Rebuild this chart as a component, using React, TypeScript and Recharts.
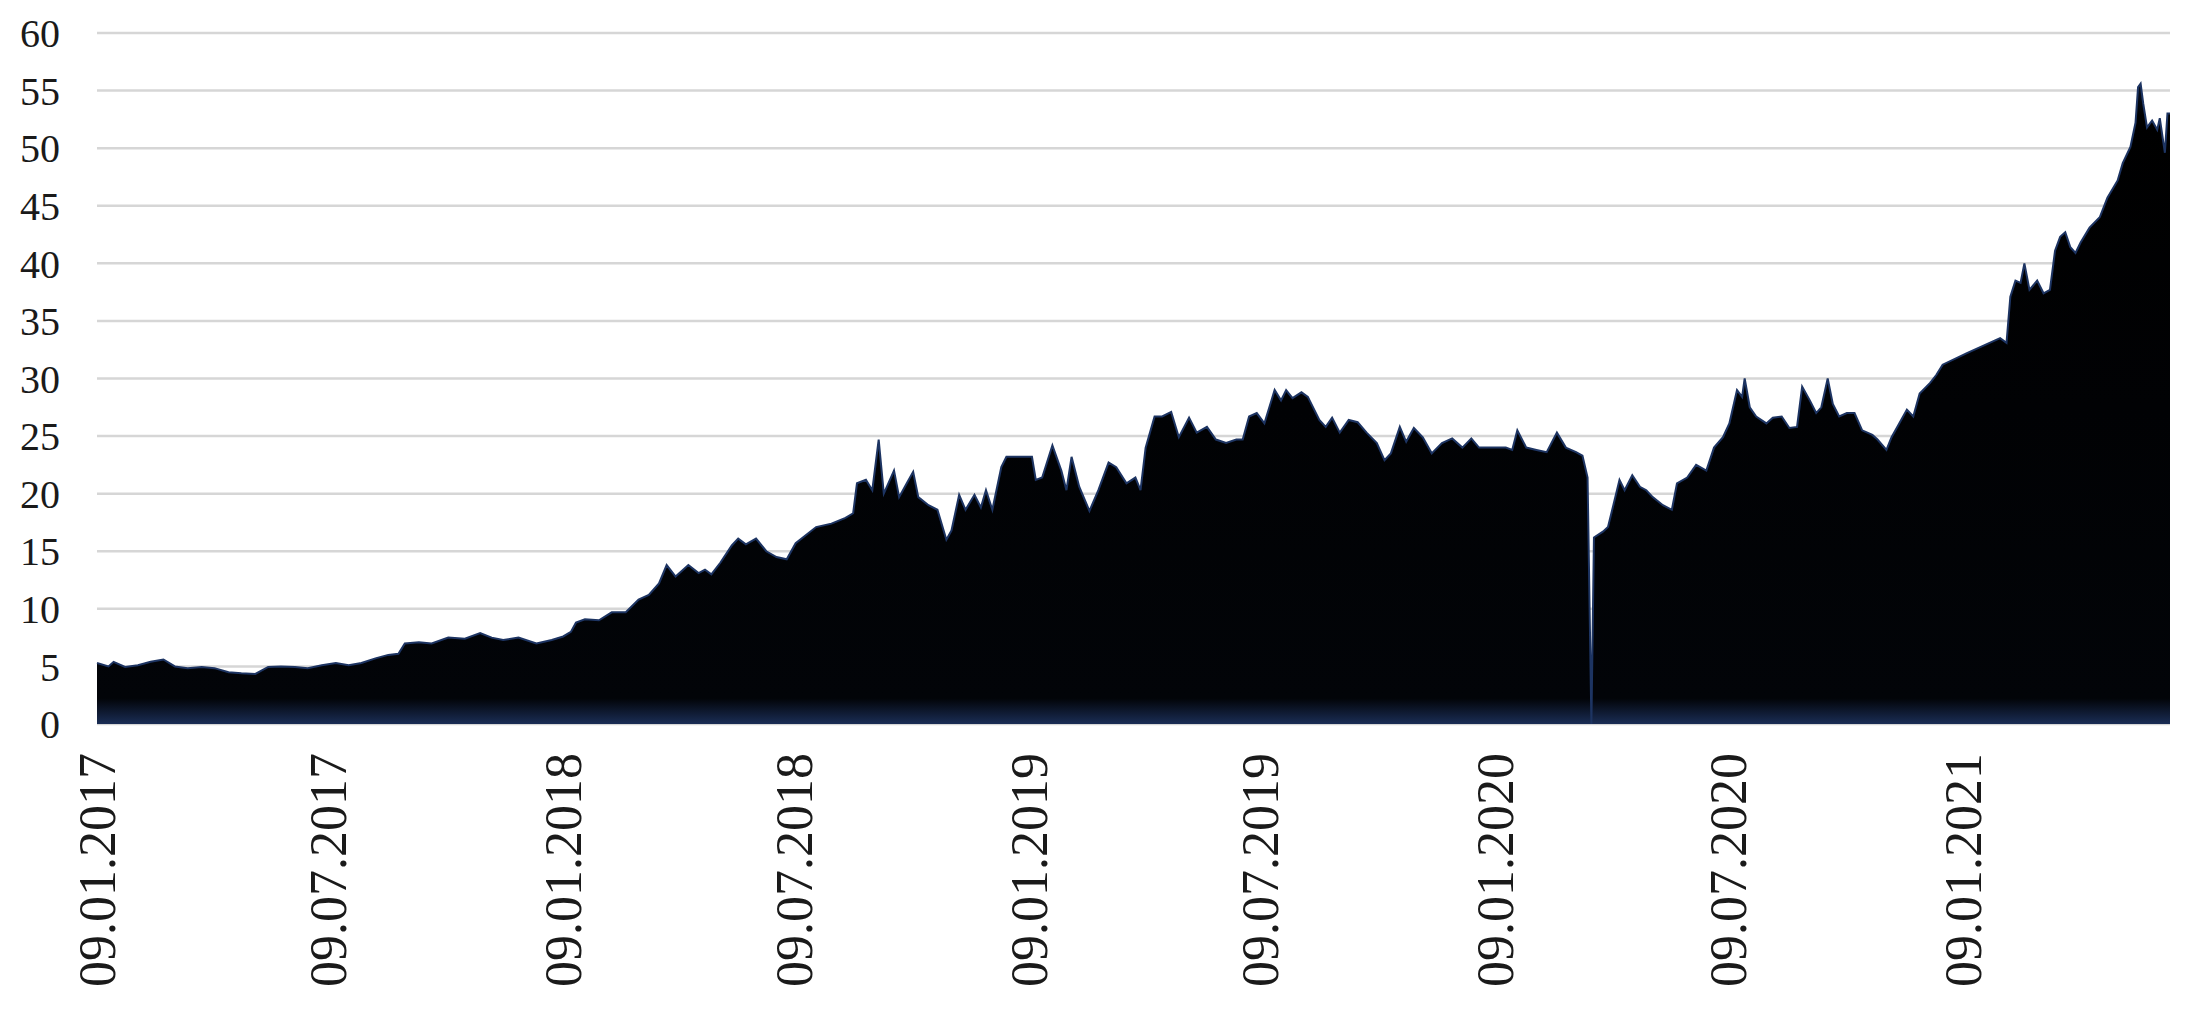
import React from 'react';
import { AreaChart, Area, XAxis, YAxis, CartesianGrid } from 'recharts';

// days since 09.01.2017
const days = [
  0, 9, 13, 22, 32, 42, 52, 61, 71, 82, 92, 103, 113, 124, 134, 144, 155, 165, 176, 187,
  197, 207, 218, 228, 236, 241, 252, 262, 275, 288, 300, 309, 318, 330, 344, 356, 365, 371,
  375, 382, 393, 403, 414, 424, 432, 440, 446, 453, 463, 471, 476, 481, 488, 497, 502, 508,
  516, 524, 532, 540, 547, 563, 575, 586, 592, 595, 602, 607, 612, 616, 624, 628, 634, 639,
  643, 651, 658, 665, 669, 675, 680, 687, 692, 696, 701, 708, 712, 732, 735, 740, 748, 755,
  759, 763, 769, 777, 784, 792, 798, 806, 813, 817, 821, 828, 834, 841, 847, 855, 861, 869,
  876, 884, 892, 897, 902, 908, 914, 922, 927, 931, 936, 943, 948, 957, 962, 967, 973, 980,
  987, 994, 1002, 1008, 1013, 1020, 1025, 1031, 1038, 1045, 1053, 1061, 1069, 1076, 1082,
  1103, 1108, 1112, 1119, 1127, 1135, 1143, 1150, 1158, 1163, 1167, 1170, 1172, 1179, 1183,
  1192, 1196, 1202, 1208, 1213, 1218, 1226, 1233, 1237, 1245, 1252, 1260, 1266, 1273, 1278,
  1284, 1288, 1290, 1294, 1299, 1307, 1312, 1319, 1325, 1331, 1335, 1341, 1346, 1350, 1355,
  1359, 1364, 1370, 1376, 1382, 1390, 1394, 1401, 1405, 1411, 1417, 1422, 1427, 1435, 1440,
  1445, 1464, 1490, 1495, 1498, 1502, 1506, 1509, 1513, 1519, 1524, 1529, 1533, 1537, 1541,
  1545, 1549, 1553, 1560, 1568, 1574, 1582, 1586, 1592, 1596, 1598, 1600, 1602, 1605, 1609,
  1613, 1615, 1619, 1621, 1623,
];

const prices = [
  5.3, 5.0, 5.4, 4.95, 5.1, 5.4, 5.6, 5.0, 4.85, 4.95, 4.85, 4.5, 4.4, 4.35, 4.95, 5.0, 4.95, 4.85, 5.1, 5.3,
  5.1, 5.3, 5.7, 6.0, 6.1, 7.0, 7.1, 7.0, 7.5, 7.4, 7.9, 7.5, 7.3, 7.5, 7.0, 7.3, 7.6, 8.0,
  8.8, 9.1, 9.0, 9.7, 9.7, 10.8, 11.2, 12.2, 13.8, 12.8, 13.8, 13.1, 13.4, 13.0, 14.0, 15.5, 16.1, 15.6,
  16.1, 15.0, 14.5, 14.3, 15.7, 17.1, 17.4, 17.9, 18.3, 20.9, 21.2, 20.3, 24.7, 20.0, 22.0, 19.7, 20.9, 21.9,
  19.7, 19.0, 18.6, 16.0, 16.8, 19.9, 18.6, 19.9, 18.8, 20.3, 18.6, 22.3, 23.2, 23.2, 21.2, 21.4, 24.2, 22.0,
  20.3, 23.2, 20.6, 18.5, 20.3, 22.7, 22.3, 20.9, 21.4, 20.3, 24.0, 26.7, 26.7, 27.1, 24.9, 26.6, 25.3, 25.8,
  24.7, 24.4, 24.7, 24.7, 26.7, 27.0, 26.1, 29.0, 28.1, 29.0, 28.3, 28.8, 28.4, 26.4, 25.8, 26.6, 25.3, 26.4,
  26.2, 25.3, 24.4, 22.9, 23.5, 25.8, 24.5, 25.7, 24.9, 23.5, 24.4, 24.8, 24.0, 24.8, 24.0,
  24.0, 23.8, 25.5, 24.0, 23.8, 23.6, 25.3, 24.0, 23.6, 23.3, 21.4, 0, 16.2, 16.7, 17.1,
  21.2, 20.3, 21.6, 20.6, 20.3, 19.7, 19.0, 18.6, 20.9, 21.4, 22.5, 22.0, 24.0, 24.9, 26.1,
  29.0, 28.4, 30.0, 27.5, 26.7, 26.1, 26.6, 26.7, 25.7, 25.8, 29.3, 28.1, 27.0, 27.5, 30.0,
  27.8, 26.7, 27.0, 27.0, 25.5, 25.1, 24.7, 23.8, 24.9, 26.1, 27.3, 26.7, 28.7, 29.6, 30.3,
  31.2, 32.2, 33.5, 33.1, 37.1, 38.5, 38.3, 40.0, 37.7, 38.5, 37.4, 37.7, 41.1, 42.3, 42.7,
  41.4, 40.9, 41.8, 43.1, 44.0, 45.7, 47.2, 48.7, 50.1, 52.2, 55.3, 55.6, 53.9, 51.8, 52.4,
  51.6, 52.6, 49.6, 53.0, 53.0,
];

const tickDays = [0, 181, 365, 546, 730, 911, 1095, 1277, 1461];
const tickLabels = [
  '09.01.2017', '09.07.2017', '09.01.2018', '09.07.2018', '09.01.2019',
  '09.07.2019', '09.01.2020', '09.07.2020', '09.01.2021',
];
const yTicks = [0, 5, 10, 15, 20, 25, 30, 35, 40, 45, 50, 55, 60];

const data = days.map((d, i) => ({ day: d, price: prices[i] }));

const FONT = '"Liberation Serif", "Times New Roman", serif';

const DateTick = (props: any) => {
  const { x, y, payload } = props;
  const label = tickLabels[tickDays.indexOf(payload.value)];
  return (
    <text
      x={x}
      y={y}
      transform={`rotate(-90, ${x}, ${y})`}
      textAnchor="end"
      dominantBaseline="central"
      fontSize={52}
      fontFamily={FONT}
      fill="#1a1a1a"
    >
      {label}
    </text>
  );
};

export default function App() {
  return (
    <AreaChart
      width={2185}
      height={1004}
      data={data}
      margin={{ top: 25, right: 23, bottom: 0, left: 0 }}
    >
      <defs>
        <linearGradient id="areaFill" x1="0" y1="0" x2="0" y2="1">
          <stop offset="0%" stopColor="#0a1226" />
          <stop offset="5%" stopColor="#000000" />
          <stop offset="96%" stopColor="#020408" />
          <stop offset="100%" stopColor="#1a2d55" />
        </linearGradient>
      </defs>
      <CartesianGrid vertical={false} stroke="#d6d6d6" strokeWidth={2.5} />
      <XAxis
        dataKey="day"
        type="number"
        domain={[0, 1623]}
        ticks={tickDays}
        interval={0}
        axisLine={false}
        tickLine={false}
        tickSize={0}
        tickMargin={29}
        height={288}
        tick={<DateTick />}
      />
      <YAxis
        domain={[0, 60]}
        ticks={yTicks}
        interval={0}
        axisLine={false}
        tickLine={false}
        tickSize={0}
        tickMargin={37}
        width={89}
        tick={{ fontSize: 40, fontFamily: FONT, fill: '#1a1a1a' }}
      />
      <Area
        type="linear"
        dataKey="price"
        stroke="#1d3462"
        strokeWidth={2}
        fill="url(#areaFill)"
        fillOpacity={1}
        isAnimationActive={false}
      />
    </AreaChart>
  );
}
